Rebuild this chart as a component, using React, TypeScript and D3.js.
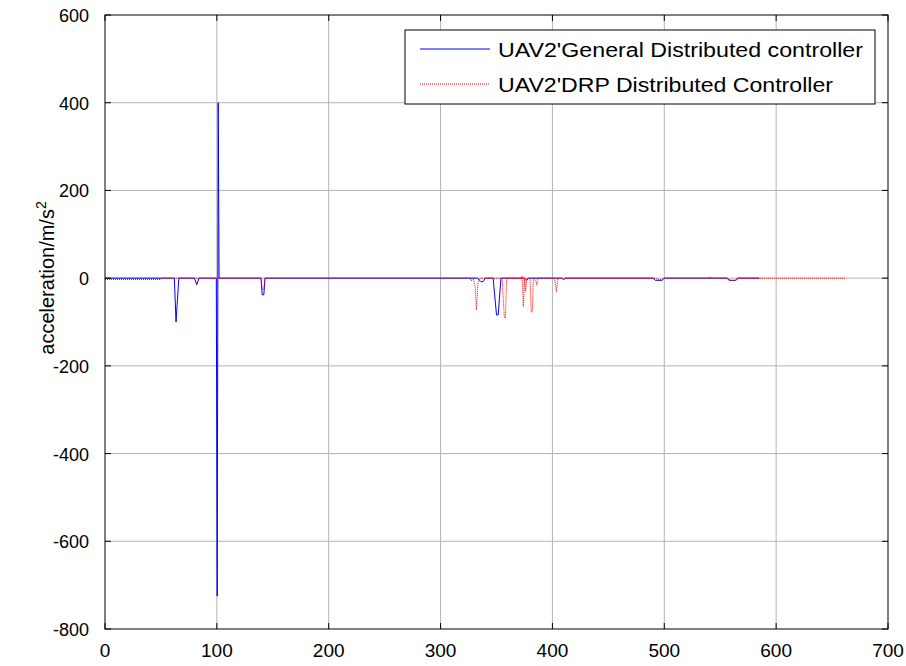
import React from 'react';
import * as d3 from 'd3';

// UAV2 general distributed controller (blue, solid)
const blueT = [0, 62, 63.5, 64.5, 66, 80, 82, 84, 99.5, 100.3, 101.2, 102, 139.5, 140.5, 142, 143, 333, 336, 338, 340, 342, 347, 350, 351.5, 354, 370, 375, 377, 379, 408, 410, 412, 490, 492, 498, 500, 556, 558, 564, 566, 585];
const blueV = [0, 0, -100, -60, 0, 0, -15, 0, 0, -725, 400, 0, 0, -38, -38, 0, 0, -8, -8, 0, 0, 0, -84, -84, 0, 0, 0, -5, 0, 0, -3, 0, 0, -5, -5, 0, 0, -5, -5, 0, 0];

// UAV2 DRP distributed controller (red, dotted)
const redT = [0, 50, 51, 139.5, 140.5, 142, 143, 326, 327.5, 329, 331, 332, 333.5, 335, 355, 357, 358, 359, 372, 373, 374, 375, 376, 377, 380, 381, 382, 383, 385, 386, 387, 402, 403.5, 405, 492, 494, 498, 500, 540, 541, 542, 557, 559, 563, 565, 662];
const redV = [-3, -3, 0, 0, -25, -25, 0, 0, -6, 0, -20, -73, -10, 0, 0, -90, -90, 0, 0, 5, -65, 0, -30, 0, 0, -77, -77, 0, -5, -15, 0, 0, -31, 0, 0, -3, -3, 0, 0, 4, 0, 0, -5, -5, 0, 0];

const xTicks = [0, 100, 200, 300, 400, 500, 600, 700];
const yTicks = [-800, -600, -400, -200, 0, 200, 400, 600];
const legendLabels = ["UAV2'General Distributed controller", "UAV2'DRP Distributed Controller"];

const W = 906, H = 666;
const left = 105, right = 888, top = 15, bottom = 629;

export default function App() {
  const x = d3.scaleLinear().domain([0, 700]).range([left, right]);
  const y = d3.scaleLinear().domain([-800, 600]).range([bottom, top]);
  const line = d3.line<[number, number]>().x(d => x(d[0])).y(d => y(d[1]));
  const blue = blueT.map((t, i) => [t, blueV[i]] as [number, number]);
  const red = redT.map((t, i) => [t, redV[i]] as [number, number]);
  const font = "'Liberation Sans', Arial, sans-serif";
  const tk = 6;

  return (
    <svg width={W} height={H} style={{ position: 'absolute', left: 0, top: 0, background: '#fff' }} fontFamily={font}>
      <rect x={0} y={0} width={W} height={H} fill="#fff" />
      {/* grid */}
      {xTicks.slice(1, -1).map(t => (
        <line key={'gx' + t} x1={x(t)} x2={x(t)} y1={top} y2={bottom} stroke="#b4b4b4" strokeWidth={1} />
      ))}
      {yTicks.slice(1, -1).map(t => (
        <line key={'gy' + t} x1={left} x2={right} y1={y(t)} y2={y(t)} stroke="#b4b4b4" strokeWidth={1} />
      ))}
      {/* data */}
      <path d={line(blue) || ''} fill="none" stroke="#0000ff" strokeWidth={1} />
      <path d={line(red) || ''} fill="none" stroke="#ff0000" strokeWidth={1} strokeDasharray="1,1" />
      {/* ticks */}
      {xTicks.map(t => (
        <g key={'tx' + t}>
          <line x1={x(t)} x2={x(t)} y1={bottom} y2={bottom - tk} stroke="#000" />
          <line x1={x(t)} x2={x(t)} y1={top} y2={top + tk} stroke="#000" />
          <text x={x(t)} y={bottom + 28} textAnchor="middle" fontSize={19}>{t}</text>
        </g>
      ))}
      {yTicks.map(t => (
        <g key={'ty' + t}>
          <line x1={left} x2={left + tk} y1={y(t)} y2={y(t)} stroke="#000" />
          <line x1={right} x2={right - tk} y1={y(t)} y2={y(t)} stroke="#000" />
          <text x={left - 16} y={y(t) + 7} textAnchor="end" fontSize={18}>{t}</text>
        </g>
      ))}
      <rect x={left} y={top} width={right - left} height={bottom - top} fill="none" stroke="#000" strokeWidth={1} />
      {/* y label */}
      <text transform={`translate(54,278) rotate(-90)`} textAnchor="middle" fontSize={20}>
        acceleration/m/s<tspan dy={-8} fontSize={14}>2</tspan>
      </text>
      {/* legend */}
      <rect x={405} y={30} width={470} height={74} fill="#fff" stroke="#000" strokeWidth={1} />
      <line x1={420} x2={490} y1={49} y2={49} stroke="#0000ff" />
      <line x1={420} x2={490} y1={84} y2={84} stroke="#ff0000" strokeDasharray="1,1" />
      <text x={498} y={57} fontSize={20} textLength={365} lengthAdjust="spacingAndGlyphs">{legendLabels[0]}</text>
      <text x={498} y={92} fontSize={20} textLength={335} lengthAdjust="spacingAndGlyphs">{legendLabels[1]}</text>
    </svg>
  );
}
